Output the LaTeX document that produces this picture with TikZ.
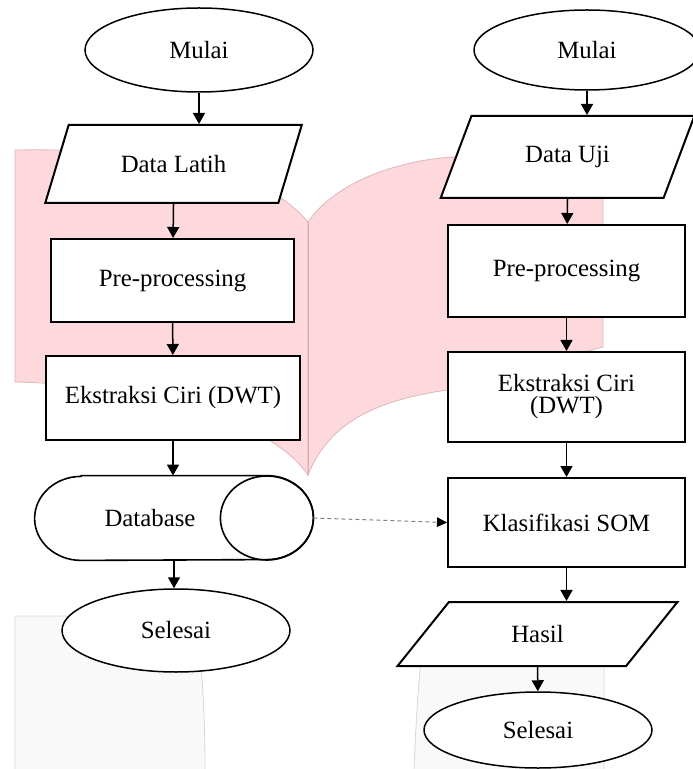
\documentclass[tikz,border=0pt]{standalone}
\usepackage{fontspec}
\setmainfont{Liberation Serif}
\usetikzlibrary{arrows.meta,positioning,shapes.geometric}

\begin{document}
\begin{tikzpicture}[x=0.5pt, y=-0.5pt, >={Triangle[length=5.5pt,width=6pt]},
    every node/.style={font=\fontsize{12.4}{14.5}\selectfont, align=center},
    terminal/.style={ellipse, draw, line width=0.75pt, fill=white, inner sep=0pt},
    io/.style={trapezium, draw, line width=1pt, fill=white, inner sep=0pt, trapezium stretches=true},
    process/.style={rectangle, draw, line width=1pt, fill=white, minimum width=118.5pt},
    store/.style={rectangle, inner sep=0pt, minimum width=139pt, minimum height=42pt},
    storeline/.style={line width=0.8pt},
    flow/.style={->, line width=0.75pt},
    link/.style={-{Triangle[length=5pt,width=4.8pt,black]}, draw=gray, dash pattern=on 2pt off 1.5pt, line width=0.5pt},
    book/.style={fill={rgb,255:red,253;green,216;blue,220}, draw={rgb,255:red,222;green,182;blue,186}, line width=0.4pt},
    sheet/.style={fill={rgb,255:red,249;green,249;blue,249}, draw={rgb,255:red,215;green,215;blue,215}, line width=0.4pt}
    ]
\useasboundingbox (0,0) rectangle (692,769);
% background pictures
\path[book] (15,150) .. controls (150,148) and (260,165) .. (308,222)
    -- (308,475) .. controls (270,420) and (150,385) .. (15,382) -- cycle;
\path[book] (308,222) .. controls (340,175) and (420,155) .. (470,157) -- (603,150)
    -- (603,347) .. controls (520,370) and (470,385) .. (447,390)
    .. controls (380,400) and (330,420) .. (308,475) -- cycle;
\draw[draw={rgb,255:red,215;green,175;blue,180}, line width=0.4pt] (308,222) -- (308,475);
\path[sheet] (15,769) -- (15,616) -- (196,616) .. controls (200,660) and (205,690) .. (205,769);
\path[sheet] (414,769) .. controls (416,720) and (418,690) .. (421,660) -- (604,660) -- (604,769);

% training
\node[terminal, minimum width=114pt, minimum height=42pt] (mulaiL) at (199,50) {Mulai};
\node[io, trapezium left angle=56, trapezium right angle=124, minimum width=128.5pt, minimum height=39pt] (latih) at (173.5,164) {Data Latih};
\node[process, minimum width=121.5pt, minimum height=41.5pt] (preL) at (172.5,280.5) {Pre-processing};
\node[process, minimum width=127pt, minimum height=42pt] (dwtL) at (173,398) {Ekstraksi Ciri (DWT)};
\node[store] (db) at (174,518) {Database\hspace*{24pt}};
\draw[storeline] ([xshift=23.25pt]db.north west) -- ([xshift=-23.25pt]db.north east)
    arc[start angle=90, end angle=-90, x radius=23.25pt, y radius=21pt]
    -- ([xshift=23.25pt]db.south west)
    arc[start angle=270, end angle=90, x radius=23.25pt, y radius=21pt] -- cycle;
\draw[storeline] ([xshift=-23.25pt]db.east) ellipse [x radius=23.25pt, y radius=21pt];
\node[terminal, minimum width=114pt, minimum height=41.5pt] (selesaiL) at (176,630.5) {Selesai};

% testing
\node[terminal, minimum width=113pt, minimum height=40pt] (mulaiR) at (587,50) {Mulai};
\node[io, trapezium left angle=58, trapezium right angle=122, minimum width=127.5pt, minimum height=41pt] (uji) at (567.5,157) {Data Uji};
\node[process, minimum height=46pt] (preR) at (566.5,271) {Pre-processing};
\node[process, minimum height=45pt, font=\fontsize{12.4}{11}\selectfont] (dwtR) at (566.5,397) {Ekstraksi Ciri\\(DWT)};
\node[process, minimum height=44.5pt] (som) at (566.5,522.5) {Klasifikasi SOM};
\node[io, trapezium left angle=49, trapezium right angle=131, minimum width=140.5pt, minimum height=32pt] (hasil) at (537.5,634) {Hasil};
\node[terminal, minimum width=114pt, minimum height=38pt] (selesaiR) at (538,730) {Selesai};

\path[flow]
(mulaiL.south) edge (mulaiL.south |- latih.north)
(latih.south)  edge (preL)
(preL)         edge (dwtL)
(dwtL.south)   edge (dwtL.south |- db.north)
(db.south)     edge (db.south |- selesaiL.north)
;
\path[flow]
(mulaiR.south) edge (mulaiR.south |- uji.north)
(uji.south)    edge (preR)
(preR)         edge (dwtR)
(dwtR)         edge (som)
(som.south)    edge (som.south |- hasil.north)
(hasil)        edge (selesaiR)
;
\draw[link] (db.east) -- (som.west);
\end{tikzpicture}
\end{document}
